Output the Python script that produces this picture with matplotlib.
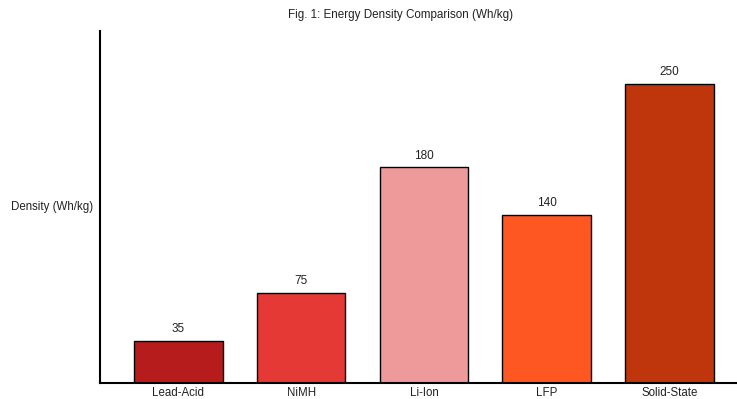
import matplotlib
matplotlib.use("Agg")
import matplotlib.pyplot as plt
import numpy as np

categories = ["Lead-Acid", "NiMH", "Li-Ion", "LFP", "Solid-State"]
density = [35, 75, 180, 140, 250]
colors = ["#b71c1c", "#e53935", "#ef9a9a", "#ff5722", "#bf360c"]

plt.rcParams['font.family'] = ['Liberation Sans', 'DejaVu Sans']
plt.rcParams['font.size'] = 8.3
plt.rcParams['text.color'] = '#222222'
plt.rcParams['xtick.color'] = '#222222'
plt.rcParams['axes.labelcolor'] = '#222222'

fig = plt.figure(figsize=(7.37, 3.99), dpi=100)
ax = fig.add_axes([100/737, 16/399, 637/737, 352/399])

x = np.arange(len(categories))
bars = ax.bar(x, density, width=0.72, color=colors, edgecolor='black', linewidth=1)
for xi, v in zip(x, density):
    ax.text(xi, v + 5, str(v), ha='center', va='bottom', fontsize=8.5)

ax.set_xlim(-0.638, 4.55)
ax.set_ylim(0, 294)
ax.set_xticks(x)
ax.set_xticklabels(categories)
ax.set_yticks([])
ax.tick_params(axis='x', length=0, pad=3)
ax.spines['top'].set_visible(False)
ax.spines['right'].set_visible(False)
ax.spines['left'].set_linewidth(1.5)
ax.spines['bottom'].set_linewidth(1.5)
ax.set_ylabel("Density (Wh/kg)", rotation=0, ha='right', va='center', labelpad=5)
fig.text(401/737, 1 - 15/399, "Fig. 1: Energy Density Comparison (Wh/kg)", ha='center', va='center', fontsize=8.4)

fig.savefig("out.png", dpi=100)
